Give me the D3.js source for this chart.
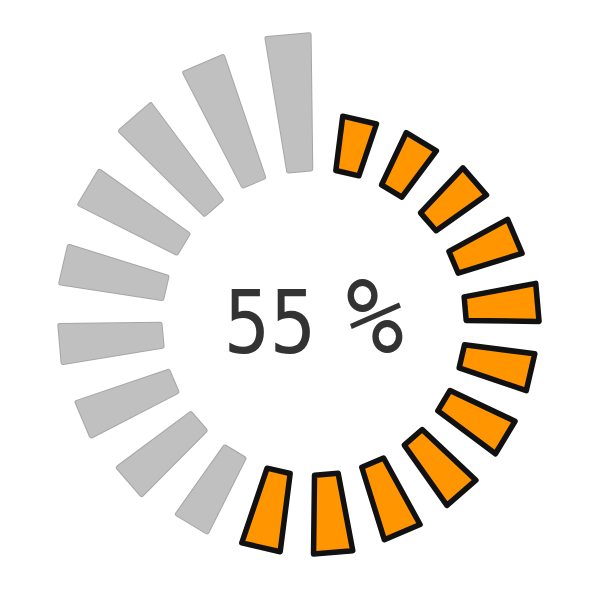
<!DOCTYPE html>
<html>
<head>
<meta charset="utf-8">
<script src="https://cdn.jsdelivr.net/npm/d3@7"></script>
<style>
  html, body { margin: 0; padding: 0; background: #fff; }
  svg { display: block; }
</style>
</head>
<body>
<div id="chart"></div>
<script>
// ---- data ----
const totalSegments = 20;
const filledSegments = 11;          // 11 of 20 -> 55 %
const percentValue = "55";
const percentSign = "%";
// visible length of each segment (clockwise from the top-right one)
const segmentLengths = [60, 63, 67, 72, 78, 76, 77, 79, 81, 84, 84,
                        87, 95, 101, 105, 107, 113, 123, 132, 139];

// ---- layout ----
const W = 600, H = 610;
const cx = 313, cy = 322;
const innerR = 150;
const deg = Math.PI / 180;

const svg = d3.select("#chart").append("svg")
  .attr("width", W).attr("height", H);

const g = svg.append("g").attr("transform", `translate(${cx},${cy})`);

const angle = d3.scaleBand()
  .domain(d3.range(totalSegments))
  .range([4 * deg, 364 * deg])
  .padding(0);

const radius = d3.scaleLinear()
  .domain([0, 140])
  .range([innerR, innerR + 140]);

function trapezoid(theta, r0, r1, h0, slope) {
  const ux = Math.sin(theta), uy = -Math.cos(theta);
  const tx = Math.cos(theta), ty = Math.sin(theta);
  const h1 = h0 + (r1 - r0) * slope;
  const pts = [
    [ux * r0 - tx * h0, uy * r0 - ty * h0],
    [ux * r1 - tx * h1, uy * r1 - ty * h1],
    [ux * r1 + tx * h1, uy * r1 + ty * h1],
    [ux * r0 + tx * h0, uy * r0 + ty * h0]
  ];
  return d3.line().curve(d3.curveLinearClosed)(pts);
}

const data = segmentLengths.map((len, i) => ({ i, len, on: i < filledSegments }));
const sw = 5.5;      // outline of filled segments
const gsw = 5;       // rounding for empty segments

function segPath(d, inset) {
  const theta = angle(d.i) + angle.bandwidth() / 2;
  const r0 = radius(0), r1 = radius(d.len);
  const hw = d.on ? 14.6 : 13.6;
  const slope = d.on ? 0.1 : 0.075;
  return trapezoid(theta, r0 + inset, r1 - inset, hw - inset, slope);
}

const empty = data.filter(d => !d.on);
const full = data.filter(d => d.on);

// empty segments: thin grey border + rounded corners
g.selectAll("path.eb")
  .data(empty)
  .join("path")
  .attr("class", "eb")
  .attr("d", d => segPath(d, gsw / 2))
  .attr("fill", "#c0c0c0")
  .attr("stroke", "#a6a6a6")
  .attr("stroke-width", gsw)
  .attr("stroke-linejoin", "round");

g.selectAll("path.ef")
  .data(empty)
  .join("path")
  .attr("class", "ef")
  .attr("d", d => segPath(d, gsw / 2))
  .attr("fill", "#c0c0c0")
  .attr("stroke", "#c0c0c0")
  .attr("stroke-width", gsw - 2)
  .attr("stroke-linejoin", "round");

// filled segments
g.selectAll("path.full")
  .data(full)
  .join("path")
  .attr("class", "full")
  .attr("d", d => segPath(d, sw / 2))
  .attr("fill", "#ff9500")
  .attr("stroke", "#111")
  .attr("stroke-width", sw)
  .attr("stroke-linejoin", "round");

const label = svg.append("text")
  .attr("y", 353)
  .attr("font-family", "DejaVu Sans Mono")
  .attr("fill", "#333");

label.append("tspan")
  .attr("x", 224)
  .attr("font-size", 88)
  .attr("textLength", 92)
  .attr("lengthAdjust", "spacingAndGlyphs")
  .text(percentValue);

label.append("tspan")
  .attr("x", 346)
  .attr("font-size", 106)
  .attr("textLength", 58)
  .attr("lengthAdjust", "spacingAndGlyphs")
  .text(percentSign);
</script>
</body>
</html>
